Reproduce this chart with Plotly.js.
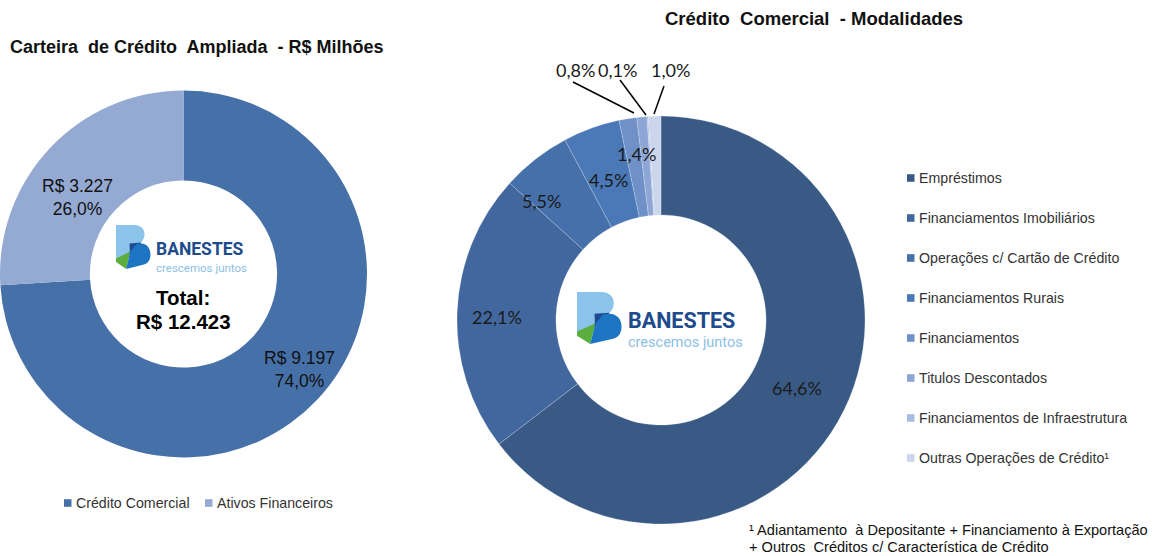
<!DOCTYPE html>
<html>
<head>
<meta charset="utf-8">
<script src="https://cdn.plot.ly/plotly-3.0.1.min.js"></script>
<style>html,body{margin:0;padding:0;background:#fff;}#chart{width:1161px;height:556px;}</style>
</head>
<body>
<div id="chart"></div>
<script>
// ---- data ----
const leftCategories = ["Crédito Comercial", "Ativos Financeiros"];
const leftValues = [9197, 3227];
const leftPercentLabels = ["74,0%", "26,0%"];
const leftValueLabels = ["R$ 9.197", "R$ 3.227"];
const leftTotalLabel = "R$ 12.423";
const leftColors = ["#4670A8", "#94AAD2"];

const rightCategories = ["Empréstimos", "Financiamentos Imobiliários", "Operações c/ Cartão de Crédito",
  "Financiamentos Rurais", "Financiamentos", "Titulos Descontados",
  "Financiamentos de Infraestrutura", "Outras Operações de Crédito¹"];
const rightValues = [64.6, 22.1, 5.5, 4.5, 1.4, 0.8, 0.1, 1.0];
const rightLabels = ["64,6%", "22,1%", "5,5%", "4,5%", "1,4%", "0,8%", "0,1%", "1,0%"];
const rightColors = ["#3A5A86", "#41679E", "#4670AA", "#4B78B6", "#6F91C8", "#8DA6D5", "#A9BCE2", "#CBD5EC"];

const W = 1161, H = 556;
const px = x => x / W;
const py = y => 1 - y / H;

const traces = [
  {
    type: "pie", labels: leftCategories, values: leftValues, sort: false, direction: "clockwise",
    rotation: 0, hole: 0.51, textinfo: "none", hoverinfo: "label+value+percent",
    marker: {colors: leftColors, line: {width: 0}},
    domain: {x: [0, 367 / W], y: [py(458), py(90)]}, showlegend: false
  },
  {
    type: "pie", labels: rightCategories, values: rightValues, sort: false, direction: "clockwise",
    rotation: 0, hole: 0.515, textinfo: "none", hoverinfo: "label+percent",
    marker: {colors: rightColors, line: {width: 0.6, color: "rgba(255,255,255,0.35)"}},
    domain: {x: [px(457), px(865)], y: [py(524), py(116)]}, showlegend: false
  }
];

const ann = [];
const shapes = [];
function txt(x, y, text, size, opts) {
  ann.push(Object.assign({
    x: px(x), y: py(y), xref: "paper", yref: "paper", text: text, showarrow: false,
    xanchor: "center", yanchor: "middle",
    font: {family: "Liberation Sans, Arial, sans-serif", size: size, color: "#000"}
  }, opts || {}));
}
const F = "Liberation Sans, Arial, sans-serif";

// titles
txt(196, 47, "<b>Carteira  de Crédito  Ampliada  - R$ Milhões</b>", 18, {font: {family: F, size: 18, color: "#111"}});
txt(814, 18, "<b>Crédito  Comercial  - Modalidades</b>", 18.5, {font: {family: F, size: 18.5, color: "#111"}});

// left slice labels
txt(77, 197, leftValueLabels[1] + "<br>" + leftPercentLabels[1], 17.5, {font: {family: F, size: 17.5, color: "#111"}});
txt(299, 369, leftValueLabels[0] + "<br>" + leftPercentLabels[0], 17.5, {font: {family: F, size: 17.5, color: "#111"}});
// total
txt(183, 297, "<b>Total:</b>", 20.5, {font: {family: F, size: 20.5, color: "#000"}});
txt(183, 321, "<b>" + leftTotalLabel + "</b>", 20.5, {font: {family: F, size: 20.5, color: "#000"}});

// right slice labels
const rightLabelPos = [[797, 388], [497, 317], [541, 201], [608, 180], [636, 154], [575, 70], [617, 70], [670, 70]];
rightLabels.forEach((t, i) => {
  txt(rightLabelPos[i][0], rightLabelPos[i][1], t, 18, {font: {family: "Lato, Carlito, sans-serif", size: 18, color: "#1a1a1a"}});
});
// leader lines
[[573, 82, 634, 113], [620, 80, 646, 115], [664, 86, 654, 114]].forEach(l => {
  shapes.push({type: "line", xref: "paper", yref: "paper", x0: px(l[0]), y0: py(l[1]), x1: px(l[2]), y1: py(l[3]),
    line: {color: "#000", width: 1.5}});
});

// legends (manual)
function legendItem(x, y, color, text) {
  shapes.push({type: "rect", xref: "paper", yref: "paper", x0: px(x), x1: px(x + 7.5), y0: py(y + 3.8), y1: py(y - 3.8),
    fillcolor: color, line: {width: 0}});
  txt(x + 10, y, text, 14.2, {xanchor: "left", font: {family: F, size: 14.2, color: "#333"}});
}
legendItem(64, 503, leftColors[0], leftCategories[0]);
legendItem(205, 503, leftColors[1], leftCategories[1]);
rightCategories.forEach((c, i) => legendItem(907, 178 + 40 * i, rightColors[i], c));

// footnote
txt(747, 530, "¹ Adiantamento  à Depositante + Financiamento à Exportação", 14.6, {xanchor: "left", font: {family: F, size: 14.6, color: "#111"}});
txt(747, 547, "+ Outros  Créditos c/ Característica de Crédito", 14.6, {xanchor: "left", font: {family: F, size: 14.6, color: "#111"}});

// logo
function pathFrom(pts, x0, y0, w, h) {
  let s = "";
  pts.forEach(p => {
    s += p[0];
    for (let k = 1; k < p.length; k += 2) {
      s += px(x0 + p[k] * w).toFixed(5) + "," + py(y0 + p[k + 1] * h).toFixed(5) + " ";
    }
  });
  return s + "Z";
}
function logo(x0, y0, w, h, tx, size1, size2) {
  const light = [["M", 0, 0], ["L", 0.55, 0], ["C", 0.85, 0, 0.92, 0.25, 0.74, 0.4], ["L", 0.62, 0.48], ["L", 0.4, 0.5], ["L", 0.4, 0.74], ["L", 0, 0.82]];
  const green = [["M", 0, 0.76], ["L", 0.42, 0.6], ["L", 0.3, 1.0], ["L", 0, 0.84]];
  const navy = [["M", 0.4, 0.42], ["L", 0.74, 0.4], ["L", 0.58, 0.6], ["L", 0.4, 0.68]];
  const blue = [["M", 0.42, 0.6], ["L", 0.6, 0.43], ["L", 0.74, 0.42], ["C", 1.08, 0.42, 1.1, 0.86, 0.82, 0.9], ["L", 0.3, 1.0]];
  [[light, "#8CC3EA"], [green, "#5AAE3E"], [navy, "#1D4A8E"], [blue, "#1C74C2"]].forEach(s => {
    shapes.push({type: "path", xref: "paper", yref: "paper", path: pathFrom(s[0], x0, y0, w, h), fillcolor: s[1], line: {width: 0}});
  });
  txt(tx, y0 + h * 0.55, "<b>BANESTES</b>", size1, {xanchor: "left", font: {family: "Roboto, Open Sans, sans-serif", size: size1, color: "#1D4B8C"}});
  txt(tx, y0 + h * 0.98, "crescemos juntos", size2, {xanchor: "left", font: {family: "Roboto, Open Sans, sans-serif", size: size2, color: "#8CC0E6"}});
}
logo(116, 225, 34, 44, 154, 17.5, 11.5);
logo(577, 292, 44, 52, 626, 21.5, 14.5);

const layout = {
  width: W, height: H, margin: {l: 0, r: 0, t: 0, b: 0},
  paper_bgcolor: "#fff", plot_bgcolor: "#fff", showlegend: false,
  annotations: ann, shapes: shapes
};
Plotly.newPlot("chart", traces, layout, {displayModeBar: false, staticPlot: true});
</script>
</body>
</html>
